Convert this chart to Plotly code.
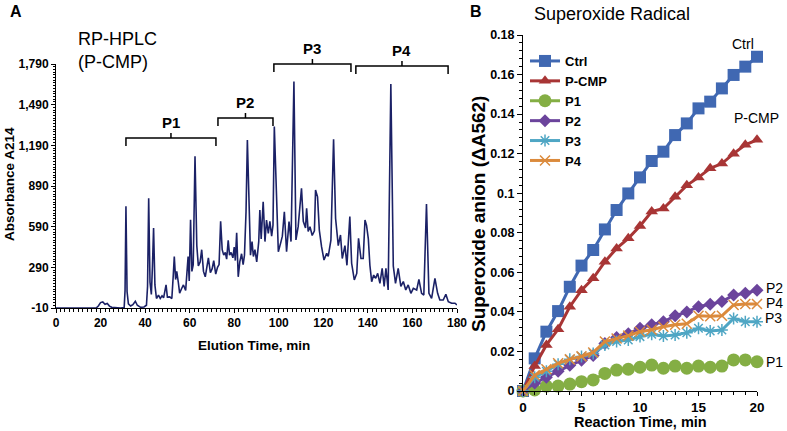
import plotly.graph_objects as go

# ---------------- Panel A : RP-HPLC chromatogram ----------------
hplc_time = [0, 18, 19, 20, 21, 22, 23, 24, 25, 27, 29, 30.6, 31.0, 31.4, 31.9, 32.5, 33.5, 34.5, 35.6, 36.5,
             38, 39.5, 40.6, 41.1, 41.6, 42.2, 42.8, 43.3, 43.8, 44.4, 45.1, 46, 46.8, 47.6, 48.3, 49.4, 50,
             51, 52, 52.6, 53.1, 53.7, 54.2, 54.9, 55.5, 56.3, 57.2, 58.2, 59.3, 59.8, 60.4, 61.0, 61.6, 62.4,
             63.2, 63.9, 64.7, 65.4, 66.2, 67.0, 67.7, 68.4, 69.3, 70.1, 70.8, 71.7, 72.5, 73.2, 73.9, 74.6,
             75.3, 76.0, 76.6, 77.3, 77.9, 78.6, 79.4, 80.0, 80.5, 81.1, 81.8, 82.5, 83.3, 84.0, 84.6, 85.3,
             85.9, 86.6, 87.3, 88.0, 88.6, 89.3, 90.1, 91.0, 91.5, 92.1, 93.0, 93.8, 94.5, 95.3, 96.0, 96.8,
             97.4, 98.0, 99.0, 99.8, 101.0, 101.6, 102.5, 103.5, 104.6, 105.5, 106.8, 107.7, 108.7, 110.2,
             111.0, 112.0, 112.5, 113.2, 114.0, 115.0, 116.0, 116.5, 117.4, 118.2, 119.2, 120.3, 121.5, 122.2,
             123.4, 124.6, 125.5, 126.7, 127.7, 128.5, 129.7, 130.6, 131.9, 132.7, 133.9, 135.0, 135.8, 136.9,
             137.9, 138.7, 139.4, 140.2, 140.9, 141.7, 142.6, 143.5, 144.4, 145.4, 146.4, 147.3, 148.1, 149.1,
             150.3, 151.4, 152.4, 153.6, 154.8, 155.9, 157.0, 158.1, 159.3, 160.4, 161.9, 162.9, 164.1, 165.1,
             166.3, 167.4, 168.6, 170.1, 171.3, 172.3, 173.8, 175.0, 176.1, 177.6, 179.1, 180.0]
hplc_abs = [-10, -10, 5, 30, 35, 18, 24, 4, -5, -8, -10, -6, 120, 740, 110, 20, 5, 15, 40, 10,
            -5, -2, 10, 150, 800, 180, 90, 300, 580, 160, 60, 85, 60, 80, 65, 160, 70,
            72, 60, 220, 370, 200, 260, 180, 100, 130, 160, 120, 370, 190, 640, 260, 310, 1110,
            450, 300, 330, 420, 260, 220, 310, 360, 250, 280, 340, 240, 290, 310, 630, 420,
            380, 400, 350, 490, 380, 400, 360, 440, 340, 545, 220, 330, 390, 310, 380, 700,
            1230, 680, 380, 480, 370, 420, 330, 480, 713, 500, 774, 480, 639, 540, 630, 520,
            600, 1328, 770, 405, 480, 520, 700, 405, 627, 480, 1660, 492, 590, 873,
            630, 580, 725, 555, 590, 525, 560, 860, 810, 565, 442, 344, 393, 370,
            490, 1234, 650, 450, 529, 355, 450, 305, 664, 320, 197, 245, 504, 355,
            355, 639, 600, 500, 305, 184, 233, 209, 246, 172, 283, 150, 283, 123,
            1642, 300, 172, 283, 150, 185, 123, 160, 98, 135, 123, 201, 98, 86,
            757, 98, 61, 209, 98, 49, 49, 91, 37, 25, 25, 12]
a_ytick_vals = [-10, 290, 590, 890, 1190, 1490, 1790]
a_ytick_text = ["-10", "290", "590", "890", "1,190", "1,490", "1,790"]
a_xtick_vals = [0, 20, 40, 60, 80, 100, 120, 140, 160, 180]

fraction_names = ["P1", "P2", "P3", "P4"]
fraction_start = [31.4, 72.7, 97.8, 134.6]
fraction_end = [71.8, 97.4, 132.4, 176.0]
fraction_level = [1244, 1392, 1790, 1776]

# ---------------- Panel B : Superoxide radical ----------------
reaction_time = list(range(21))
ctrl = [0, 0.0165, 0.030, 0.0404, 0.0527, 0.0634, 0.0713, 0.0817, 0.0915, 0.0999, 0.108,
        0.1163, 0.121, 0.1294, 0.1353, 0.1429, 0.1463, 0.153, 0.1598, 0.164, 0.169]
p_cmp = [0, 0.0126, 0.0233, 0.0312, 0.0426, 0.051, 0.057, 0.0654, 0.0721, 0.0772, 0.0834,
         0.0907, 0.0923, 0.0982, 0.104, 0.108, 0.1126, 0.115, 0.120, 0.1245, 0.127]
p1 = [0, 0.0005, 0.0025, 0.0025, 0.0035, 0.0047, 0.0056, 0.0089, 0.0106, 0.011, 0.012,
      0.0131, 0.0115, 0.0126, 0.0115, 0.0126, 0.012, 0.0126, 0.0157, 0.0157, 0.0148]
p2 = [0, 0.004, 0.007, 0.010, 0.013, 0.0155, 0.018, 0.024, 0.027, 0.029, 0.0317,
      0.0335, 0.035, 0.038, 0.040, 0.0426, 0.0438, 0.0452, 0.0485, 0.0494, 0.051]
p3 = [0, 0.007, 0.010, 0.0135, 0.016, 0.0175, 0.019, 0.0233, 0.025, 0.0258, 0.0275,
      0.0287, 0.0278, 0.0283, 0.0295, 0.0317, 0.0303, 0.0308, 0.0367, 0.035, 0.035]
p4 = [0, 0.008, 0.011, 0.014, 0.016, 0.0175, 0.0195, 0.025, 0.0265, 0.028, 0.030,
      0.031, 0.0325, 0.0335, 0.034, 0.038, 0.0378, 0.038, 0.0435, 0.044, 0.044]
b_ytick_vals = [0, 0.02, 0.04, 0.06, 0.08, 0.10, 0.12, 0.14, 0.16, 0.18]
b_ytick_text = ["0", "0.02", "0.04", "0.06", "0.08", "0.1", "0.12", "0.14", "0.16", "0.18"]
b_xtick_vals = [0, 5, 10, 15, 20]

series = [
    ("Ctrl", ctrl, "#4068B2", "square", 12, 1),
    ("P-CMP", p_cmp, "#A83535", "triangle-up", 11, 1),
    ("P1", p1, "#84AE44", "circle", 13, 1),
    ("P2", p2, "#6B449C", "diamond", 10, 1),
    ("P3", p3, "#4FA6C4", "asterisk-open", 10, 1.5),
    ("P4", p4, "#DB8A3C", "x-thin-open", 10, 1.5),
]
end_labels = {"Ctrl": (743, 44, "center"), "P-CMP": (756, 118, "center"),
              "P2": (764, 288, "left"), "P4": (764, 303, "left"),
              "P3": (763, 318, "left"), "P1": (764, 362, "left")}

W, H = 787, 431
FONT = "Liberation Sans, Arial, Helvetica, sans-serif"
A_X = [56 / W, 457 / W]
A_Y = [1 - 308 / H, 1 - 64 / H]
B_X = [523 / W, 757 / W]
B_Y = [1 - 391 / H, 1 - 35 / H]

fig = go.Figure()
fig.add_trace(go.Scatter(x=hplc_time, y=hplc_abs, mode="lines",
                         line=dict(color="#1B2166", width=1.6),
                         xaxis="x", yaxis="y", showlegend=False))

for name, vals, col, sym, sz, lw in series:
    if sym.endswith("open"):
        marker = dict(symbol=sym, size=sz, color=col, line=dict(color=col, width=lw))
    else:
        marker = dict(symbol=sym, size=sz, color=col, line=dict(width=0))
    fig.add_trace(go.Scatter(x=reaction_time, y=vals, name=name, mode="lines+markers",
                             line=dict(color=col, width=3), marker=marker,
                             xaxis="x2", yaxis="y2", cliponaxis=False))

axis_common = dict(showgrid=False, zeroline=False, showline=True, linecolor="black",
                   linewidth=1, ticks="outside", tickcolor="black", mirror=False,
                   automargin=False)

fig.update_layout(
    width=W, height=H, margin=dict(l=0, r=0, t=0, b=0, pad=0), autosize=False,
    paper_bgcolor="white", plot_bgcolor="white",
    font=dict(family=FONT, color="black"),
    xaxis=dict(domain=A_X, range=[0, 180], anchor="y", tickvals=a_xtick_vals,
               ticklen=4, tickfont=dict(size=12, family=FONT, weight="bold"),
               minor=dict(dtick=2, ticklen=2.5, ticks="outside", tickcolor="black"),
               **axis_common),
    yaxis=dict(domain=A_Y, range=[-10, 1790], anchor="x", tickvals=a_ytick_vals,
               ticktext=a_ytick_text, ticklen=4,
               tickfont=dict(size=12, family=FONT, weight="bold"),
               minor=dict(tick0=-10, dtick=20, ticklen=2.5, ticks="outside", tickcolor="black"),
               **axis_common),
    xaxis2=dict(domain=B_X, range=[0, 20], anchor="y2", tickvals=b_xtick_vals,
                ticklen=4, tickfont=dict(size=13.5, family=FONT, weight="bold"),
                minor=dict(dtick=1, ticklen=3, ticks="outside", tickcolor="black"),
                **axis_common),
    yaxis2=dict(domain=B_Y, range=[0, 0.18], anchor="x2", tickvals=b_ytick_vals,
                ticktext=b_ytick_text, ticklen=5,
                tickfont=dict(size=12.5, family=FONT, weight="bold"),
                minor=dict(dtick=0.004, ticklen=3, ticks="outside", tickcolor="black"),
                **axis_common),
    legend=dict(x=525 / W, y=1 - 46 / H, xanchor="left", yanchor="top",
                bgcolor="rgba(0,0,0,0)", font=dict(size=13, family=FONT, weight="bold"),
                itemwidth=30, tracegroupgap=0),
)

annotations = [
    dict(text="<b>A</b>", x=8 / W, y=1 - 12 / H, font=dict(size=16), xanchor="left"),
    dict(text="<b>B</b>", x=476 / W, y=1 - 12 / H, font=dict(size=16), xanchor="center"),
    dict(text="RP-HPLC<br>(P-CMP)", x=76 / W, y=1 - 51 / H, font=dict(size=18), align="left",
         xanchor="left"),
    dict(text="Superoxide Radical", x=532 / W, y=1 - 14 / H, font=dict(size=18), xanchor="left"),
    # axis titles
    dict(text="<b>Elution Time, min</b>", x=254 / W, y=1 - 345 / H, font=dict(size=13.5),
         xanchor="center"),
    dict(text="<b>Absorbance A214</b>", x=9 / W, y=1 - 184 / H, font=dict(size=13.5),
         xanchor="center", textangle=-90),
    dict(text="<b>Reaction Time, min</b>", x=640 / W, y=1 - 422 / H, font=dict(size=14.5),
         xanchor="center"),
    dict(text="<b>Superoxide anion (ΔA562)</b>", x=479 / W, y=1 - 214 / H, font=dict(size=19),
         xanchor="center", textangle=-90),
]
for a in annotations:
    a.update(xref="paper", yref="paper", yanchor="middle", showarrow=False)
    fig.add_annotation(**a)

for name, (px, py, anc) in end_labels.items():
    fig.add_annotation(text=name, xref="paper", yref="paper", x=px / W, y=1 - py / H,
                       xanchor=anc, yanchor="middle", showarrow=False, font=dict(size=14))


def a_xpaper(t):
    return A_X[0] + (t - 0) / 180 * (A_X[1] - A_X[0])


def a_ypaper(v):
    return A_Y[0] + (v + 10) / 1800 * (A_Y[1] - A_Y[0])


drop = 8 / H
rise = 5 / H
for name, t0, t1, lev in zip(fraction_names, fraction_start, fraction_end, fraction_level):
    x0, x1 = a_xpaper(t0), a_xpaper(t1)
    xm = (x0 + x1) / 2
    yt = a_ypaper(lev)
    path = (f"M {x0},{yt - drop} L {x0},{yt} L {x1},{yt} L {x1},{yt - drop} "
            f"M {xm},{yt} L {xm},{yt + rise}")
    fig.add_shape(type="path", path=path, xref="paper", yref="paper",
                  line=dict(color="black", width=1.5))
    fig.add_annotation(text=f"<b>{name}</b>", xref="paper", yref="paper", x=xm, y=yt + rise,
                       xanchor="center", yanchor="bottom", showarrow=False,
                       font=dict(size=15), yshift=0)

fig.write_html("out.html", config={"displayModeBar": False},
               post_script="document.body.style.margin='0px';document.body.style.overflow='hidden';")
